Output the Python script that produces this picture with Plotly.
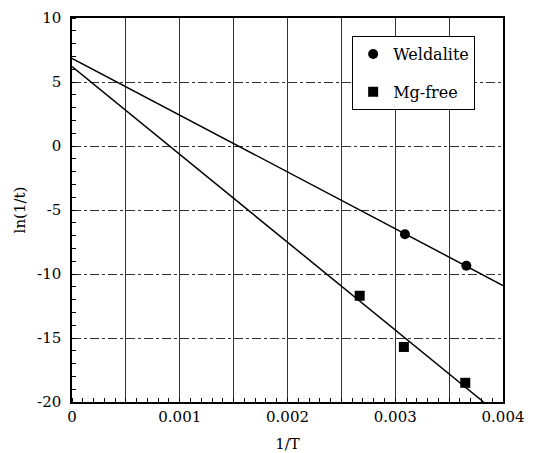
import plotly.graph_objects as go

# Data
weld_x = [0.00309, 0.00366]
weld_y = [-6.9, -9.35]
mg_x = [0.00267, 0.00308, 0.00365]
mg_y = [-11.7, -15.7, -18.5]

# fitted lines (endpoints)
weld_fit_x = [0.0, 0.004]
weld_fit_y = [6.85, -10.9]
mg_fit_x = [0.0, 0.00382]
mg_fit_y = [6.2, -20.0]

x_tickvals = [0, 0.0005, 0.001, 0.0015, 0.002, 0.0025, 0.003, 0.0035, 0.004]
x_ticktext = ["0", "", "0.001", "", "0.002", "", "0.003", "", "0.004"]
y_tickvals = [-20, -15, -10, -5, 0, 5, 10]
y_ticktext = ["-20", "-15", "-10", "-5", "0", "5", "10"]

FONT = "DejaVu Serif"

fig = go.Figure()
fig.add_trace(go.Scatter(x=weld_fit_x, y=weld_fit_y, mode="lines",
                         line=dict(color="black", width=1.5), showlegend=False))
fig.add_trace(go.Scatter(x=mg_fit_x, y=mg_fit_y, mode="lines",
                         line=dict(color="black", width=1.5), showlegend=False))
fig.add_trace(go.Scatter(x=weld_x, y=weld_y, mode="markers", name="Weldalite",
                         legendgroup="a",
                         marker=dict(symbol="circle", size=10, color="black")))
fig.add_trace(go.Scatter(x=mg_x, y=mg_y, mode="markers", name="Mg-free",
                         legendgroup="b",
                         marker=dict(symbol="square", size=10, color="black")))

fig.update_layout(
    width=536, height=453,
    margin=dict(l=72, r=33, t=18, b=51),
    paper_bgcolor="white", plot_bgcolor="white",
    font=dict(family=FONT, size=15, color="black"),
    legend=dict(x=0.65, y=0.953, xanchor="left", yanchor="top",
                bordercolor="black", borderwidth=1, bgcolor="white",
                tracegroupgap=14, font=dict(size=16, family=FONT),
                itemwidth=30),
    xaxis=dict(range=[0, 0.004], tickmode="array", tickvals=x_tickvals,
               ticktext=x_ticktext, showline=True, linecolor="black",
               linewidth=1.5, mirror=True, ticks="", automargin=False,
               showgrid=True, gridcolor="#333", gridwidth=1, zeroline=False,
               minor=dict(tickmode="linear", tick0=0, dtick=0.0001,
                          ticks="inside", ticklen=4, tickcolor="black",
                          showgrid=False),
               title=dict(text="1/T", standoff=14, font=dict(size=15, family=FONT)),
               tickfont=dict(size=15, family=FONT)),
    yaxis=dict(range=[-20, 10], tickmode="array", tickvals=y_tickvals,
               ticktext=y_ticktext, automargin=False, ticklabelstandoff=6,
               showline=True, linecolor="black", linewidth=1.5, mirror=True,
               ticks="", showgrid=True, gridcolor="#333", gridwidth=1,
               griddash="dashdot", zeroline=False,
               minor=dict(tickmode="linear", tick0=0, dtick=1,
                          ticks="inside", ticklen=4, tickcolor="black",
                          showgrid=False),
               title=dict(text="ln(1/t)", standoff=8, font=dict(size=15, family=FONT)),
               tickfont=dict(size=15, family=FONT)),
)

fig.write_html("out.html")
